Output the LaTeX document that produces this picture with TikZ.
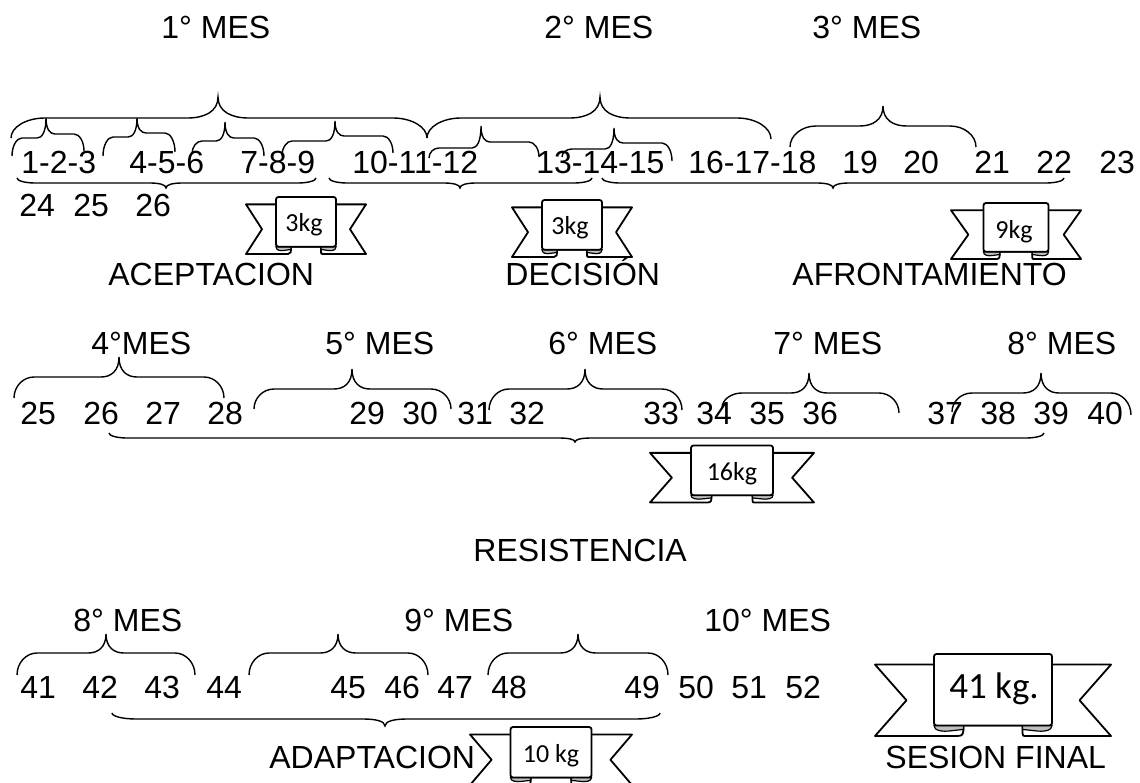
\documentclass[tikz,border=0pt]{standalone}
\usepackage{fontspec}
\setmainfont{Liberation Sans}
\newfontfamily\kgfont{Carlito}
\tikzset{
  word/.style={anchor=base west,inner sep=0pt,font=\fontsize{16}{19}\selectfont},
  kg/.style={inner sep=0pt,font=\kgfont\fontsize{13}{15}\selectfont},
  bigkg/.style={inner sep=0pt,font=\kgfont\fontsize{18.5}{21}\selectfont},
  curly/.style={draw=black,line width=.7pt},
  pics/ribbon/.style={code={
    \draw[line width=.9pt,fill=white,line join=round] (-30,-23) -- (-60,-23) -- (-44,4) -- (-60,31) -- (-18,31)
      .. controls (-15,31) and (-15,29) .. (-15,23) -- (15,23) -- (15,29) .. controls (15,31) and (15,31) .. (18,31)
      -- (60,31) -- (44,4) -- (60,-23) -- (30,-23);
    \draw[line width=.6pt,fill=black!25] (-30,23) .. controls (-30,27) and (-26,28) .. (-21,27) -- (-15,26) -- (-15,23) -- cycle;
    \draw[line width=.6pt,fill=black!25] (30,23) .. controls (30,27) and (26,28) .. (21,27) -- (15,26) -- (15,23) -- cycle;
    \draw[line width=.9pt,fill=white,rounded corners=1.2pt] (-30,-31) rectangle (30,23);
  }}
}
\begin{document}
\begin{tikzpicture}[x=.5pt,y=-.5pt]
  \clip (0,0) rectangle (1140,782);

  % months
  \foreach \name/\x/\y/\txt in {m1/161/38/1° MES, m2/544/38/2° MES, m3/812/38/3° MES,
      m4/91/354/4°MES, m5/325/354/5° MES, m6/548/354/6° MES, m7/773/354/7° MES, m8/1007/354/8° MES,
      m9/73/631/8° MES, m10/404/631/9° MES, m11/704/631/10° MES}
    \node[word] (\name) at (\x,\y) {\txt};

  % numbers
  \foreach \x/\txt in {21/1-2-3, 129/4-5-6, 240/7-8-9, 352/10-11-12, 536/13-14-15, 688/16-17-18,
      842/19, 903/20, 974/21, 1036/22, 1099/23}
    \node[word] (a\txt) at (\x,173.5) {\txt};
  \foreach \x/\txt in {19/24, 73/25, 135/26}
    \node[word] (a\txt) at (\x,216) {\txt};
  \foreach \x/\txt in {20/25, 83/26, 145/27, 207/28, 349/29, 402/30, 457/31, 509/32, 643/33,
      696/34, 749/35, 802/36, 927/37, 980/38, 1033/39, 1087/40}
    \node[word] (b\txt) at (\x,424) {\txt};
  \foreach \x/\txt in {20/41, 82/42, 144/43, 206/44, 330/45, 384/46, 437/47, 491/48, 624/49,
      678/50, 731/51, 785/52}
    \node[word] (c\txt) at (\x,698) {\txt};

  % stage names
  \node[word] (aceptacion) at (108,285) {ACEPTACION};
  \node[word] (decision) at (505,285) {DECISIÓN};
  \node[word] (afrontamiento) at (792,285) {AFRONTAMIENTO};
  \node[word] (resistencia) at (473,561) {RESISTENCIA};
  \node[word] (adaptacion) at (269,768) {ADAPTACION};
  \node[word] (final) at (885,768) {SESION FINAL};

  % braces: left end, line, tip, line, right end, bend
  \foreach \xa/\ya/\yl/\xm/\ym/\yr/\xb/\yb/\rd in {
      11/138/118/218/97/118/427/138/34, 427/138/118/600/97/118/771/139/34, 790/147/126/883/106/126/976/147/26,
      12/156/138/46/118/134/84/151/10, 103/156/137/137/118/133/175/152/10, 192/154/141/225/122/138/264/156/10,
      282/156/141/335/121/136/393/153/10, 429/158/148/481/126/142/539/157/10, 562/157/149/614/128/143/672/161/10,
      17/178/183/166/188/183/316/178/18, 329/178/183/460/188/183/592/178/18, 602/178/183/833/188/183/1064/178/18,
      14/398/377/119/357/377/224/398/20, 254/409/389/352/369/389/451/409/20, 489/410/389/585/369/389/682/410/20,
      722/408/393/809/373/393/899/413/20, 952/412/393/1041/373/393/1131/415/20,
      109/433/438/575/442/438/1044/433/18,
      17/675/653/106/634/653/195/675/20, 249/675/653/338/634/653/428/675/20, 488/675/653/578/634/653/668/675/20,
      112/713/719/385/726/719/660/713/24}
    \draw[curly] (\xa,\ya) .. controls (\xa,.45*\ya+.55*\yl) and (\xa+.45*\rd,\yl) .. (\xa+\rd,\yl)
      -- (\xm-.9*\rd,\yl) .. controls (\xm-.4*\rd,\yl) and (\xm,.7*\yl+.3*\ym) .. (\xm,\ym)
      .. controls (\xm,.7*\yr+.3*\ym) and (\xm+.4*\rd,\yr) .. (\xm+.9*\rd,\yr)
      -- (\xb-\rd,\yr) .. controls (\xb-.45*\rd,\yr) and (\xb,.45*\yb+.55*\yr) .. (\xb,\yb);

  % ribbons
  \foreach \name/\x/\y/\wd/\ht in {r1/306/225.5/120/57, r2/572/228.5/120/57, r3/1016/231/130/56,
      r4/732/474/164/57, r5/551/756/162/58, r6/993/695/236/82}
    \pic[xscale=\wd/120,yscale=\ht/62] (\name) at (\x,\y) {ribbon};
  \node[kg] (k1) at (304,225) {3kg};
  \node[kg] (k2) at (570,228) {3kg};
  \node[kg] (k3) at (1014,232) {9kg};
  \node[kg] (k4) at (732,474) {16kg};
  \node[kg] (k5) at (551,756) {10 kg};
  \node[bigkg] (k6) at (994,689) {41 kg.};
\end{tikzpicture}
\end{document}
